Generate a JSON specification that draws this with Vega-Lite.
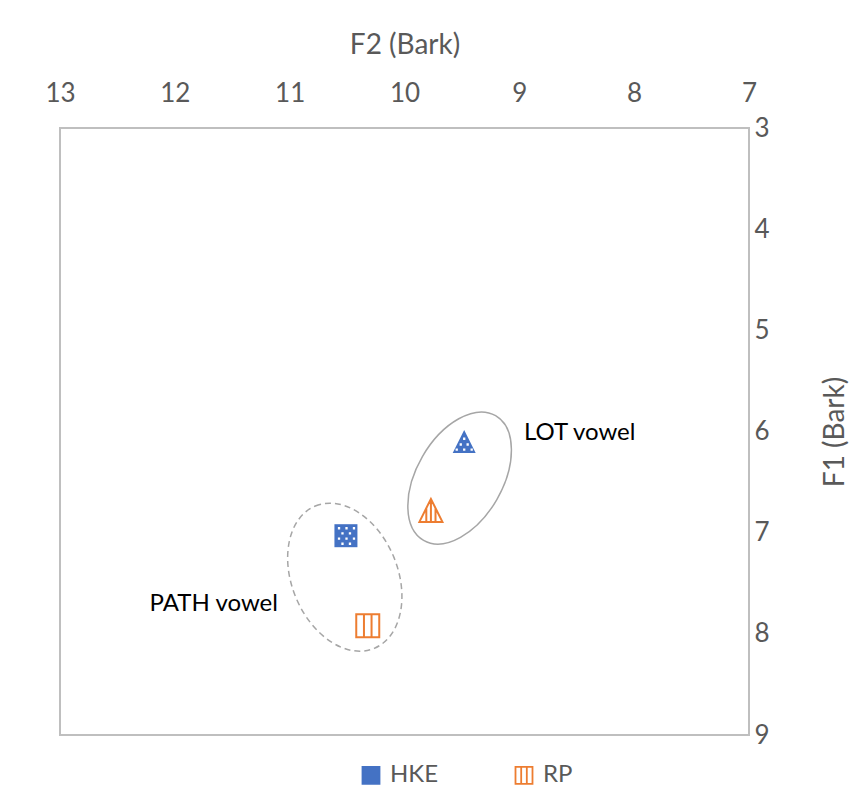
{
  "$schema": "https://vega.github.io/schema/vega-lite/v6.json",
  "width": 689,
  "height": 607,
  "autosize": {"type": "none"},
  "padding": {"left": 60, "top": 128, "right": 100, "bottom": 66},
  "background": "white",
  "config": {
    "view": {"stroke": "#bfbfbf", "strokeWidth": 2},
    "font": "Lato",
    "axis": {"grid": false, "domain": false, "ticks": false, "tickSize": 0, "labelFont": "Lato", "labelFontSize": 26, "labelColor": "#595959", "titleFont": "Lato", "titleFontSize": 28, "titleFontWeight": "normal", "titleColor": "#595959", "labelFlush": false, "labelOverlap": false, "labelBound": false}
  },
  "datasets": {
    "points": [
      {"series": "HKE", "vowel": "PATH", "F2": 10.51, "F1": 7.03},
      {"series": "RP", "vowel": "PATH", "F2": 10.32, "F1": 7.92},
      {"series": "HKE", "vowel": "LOT", "F2": 9.48, "F1": 6.10},
      {"series": "RP", "vowel": "LOT", "F2": 9.77, "F1": 6.78}
    ],
    "ellipses": [
      {"group": "LOT", "F2": 9.52, "F1": 6.46},
      {"group": "PATH", "F2": 10.52, "F1": 7.44}
    ],
    "labels": [
      {"text": "LOT vowel", "F2": 8.96, "F1": 6.01},
      {"text": "PATH vowel", "F2": 12.22, "F1": 7.71}
    ]
  },
  "encoding": {
    "x": {"field": "F2", "type": "quantitative", "scale": {"domain": [7, 13], "reverse": true, "zero": false, "nice": false},
      "axis": {"orient": "top", "values": [7, 8, 9, 10, 11, 12, 13], "title": "F2 (Bark)", "labelPadding": 22, "titleY": -83, "titleBaseline": "middle"}},
    "y": {"field": "F1", "type": "quantitative", "scale": {"domain": [3, 9], "reverse": true, "zero": false, "nice": false},
      "axis": {"orient": "right", "values": [3, 4, 5, 6, 7, 8, 9], "title": "F1 (Bark)", "labelPadding": 5, "titleAngle": 270, "titleX": 86, "titleY": 303.5, "titleAlign": "center", "titleBaseline": "middle"}}
  },
  "layer": [
    {
      "data": {"name": "ellipses"},
      "transform": [{"filter": "datum.group === 'LOT'"}],
      "mark": {"type": "point", "shape": "M-1,0A1,0.597,0,1,1,1,0A1,0.597,0,1,1,-1,0Z", "size": 20736, "angle": 300, "filled": false, "opacity": 1, "color": "#a6a6a6", "strokeWidth": 1.5}
    },
    {
      "data": {"name": "ellipses"},
      "transform": [{"filter": "datum.group === 'PATH'"}],
      "mark": {"type": "point", "shape": "M-1,0A1,0.688,0,1,1,1,0A1,0.688,0,1,1,-1,0Z", "size": 23716, "angle": 67.5, "filled": false, "opacity": 1, "color": "#a6a6a6", "strokeWidth": 1.5, "strokeDash": [6, 4]}
    },
    {
      "data": {"name": "labels"},
      "mark": {"type": "text", "align": "left", "baseline": "middle", "font": "Lato", "fontSize": 24, "color": "black"},
      "encoding": {"text": {"field": "text"}}
    },
    {
      "data": {"name": "points"},
      "mark": {"type": "point", "filled": true, "opacity": 0, "size": 4},
      "encoding": {
        "fill": {"field": "series", "type": "nominal", "scale": {"domain": ["HKE", "RP"], "range": ["#4472C4", "#ffffff"]}},
        "stroke": {"field": "series", "type": "nominal", "scale": {"domain": ["HKE", "RP"], "range": ["#4472C4", "#ED7D31"]}},
        "shape": {"field": "series", "type": "nominal", "scale": {"domain": ["HKE", "RP"], "range": ["M-1,-1H1V1H-1Z", "M-1,-1H1V1H-1Z M-0.33,-1V1 M0.33,-1V1"]},
          "legend": {"title": null, "orient": "none", "legendX": 299, "legendY": 635, "direction": "horizontal", "symbolSize": 289, "symbolOpacity": 1, "symbolStrokeWidth": 1.8, "labelFontSize": 24, "labelColor": "#595959", "labelFont": "Lato", "labelOffset": 7, "columnPadding": 72}}
      }
    },
    {
      "data": {"name": "points"},
      "transform": [{"filter": "datum.series === 'HKE' && datum.vowel === 'PATH'"}],
      "mark": {"type": "point", "filled": true, "opacity": 1, "size": 529, "strokeWidth": 0, "color": "#4472C4", "shape": "M-1,-1H1V1H-1Z"}
    },
    {
      "data": {"name": "points"},
      "transform": [{"filter": "datum.series === 'HKE' && datum.vowel === 'LOT'"}],
      "mark": {"type": "point", "filled": true, "opacity": 1, "size": 529, "strokeWidth": 0, "color": "#4472C4", "shape": "M0,-1L1,1H-1Z"}
    },
    {
      "data": {"name": "points"},
      "transform": [{"filter": "datum.series === 'HKE' && datum.vowel === 'PATH'"}],
      "mark": {"type": "point", "filled": true, "opacity": 1, "size": 529, "strokeWidth": 0, "color": "white",
        "shape": "M-0.7,-0.75h0.2v0.2h-0.2Z M-0.05,-0.75h0.2v0.2h-0.2Z M0.6,-0.75h0.2v0.2h-0.2Z M-0.4,-0.3h0.2v0.2h-0.2Z M0.25,-0.3h0.2v0.2h-0.2Z M-0.7,0.15h0.2v0.2h-0.2Z M-0.05,0.15h0.2v0.2h-0.2Z M0.6,0.15h0.2v0.2h-0.2Z M-0.4,0.6h0.2v0.2h-0.2Z M0.25,0.6h0.2v0.2h-0.2Z"}
    },
    {
      "data": {"name": "points"},
      "transform": [{"filter": "datum.series === 'HKE' && datum.vowel === 'LOT'"}],
      "mark": {"type": "point", "filled": true, "opacity": 1, "size": 529, "strokeWidth": 0, "color": "white",
        "shape": "M-0.1,-0.35h0.2v0.2h-0.2Z M-0.4,0.15h0.2v0.2h-0.2Z M0.2,0.15h0.2v0.2h-0.2Z M-0.75,0.6h0.2v0.2h-0.2Z M-0.1,0.6h0.2v0.2h-0.2Z M0.55,0.6h0.2v0.2h-0.2Z"}
    },
    {
      "data": {"name": "points"},
      "transform": [{"filter": "datum.series === 'RP' && datum.vowel === 'PATH'"}],
      "mark": {"type": "point", "filled": false, "opacity": 1, "size": 529, "color": "#ED7D31", "strokeWidth": 2, "shape": "M-1,-1H1V1H-1Z M-0.33,-1V1 M0.33,-1V1"}
    },
    {
      "data": {"name": "points"},
      "transform": [{"filter": "datum.series === 'RP' && datum.vowel === 'LOT'"}],
      "mark": {"type": "point", "filled": false, "opacity": 1, "size": 529, "color": "#ED7D31", "strokeWidth": 2, "shape": "M0,-1L1,1H-1Z M0,-1V1 M-0.4,-0.2V1 M0.4,-0.2V1"}
    }
  ]
}
